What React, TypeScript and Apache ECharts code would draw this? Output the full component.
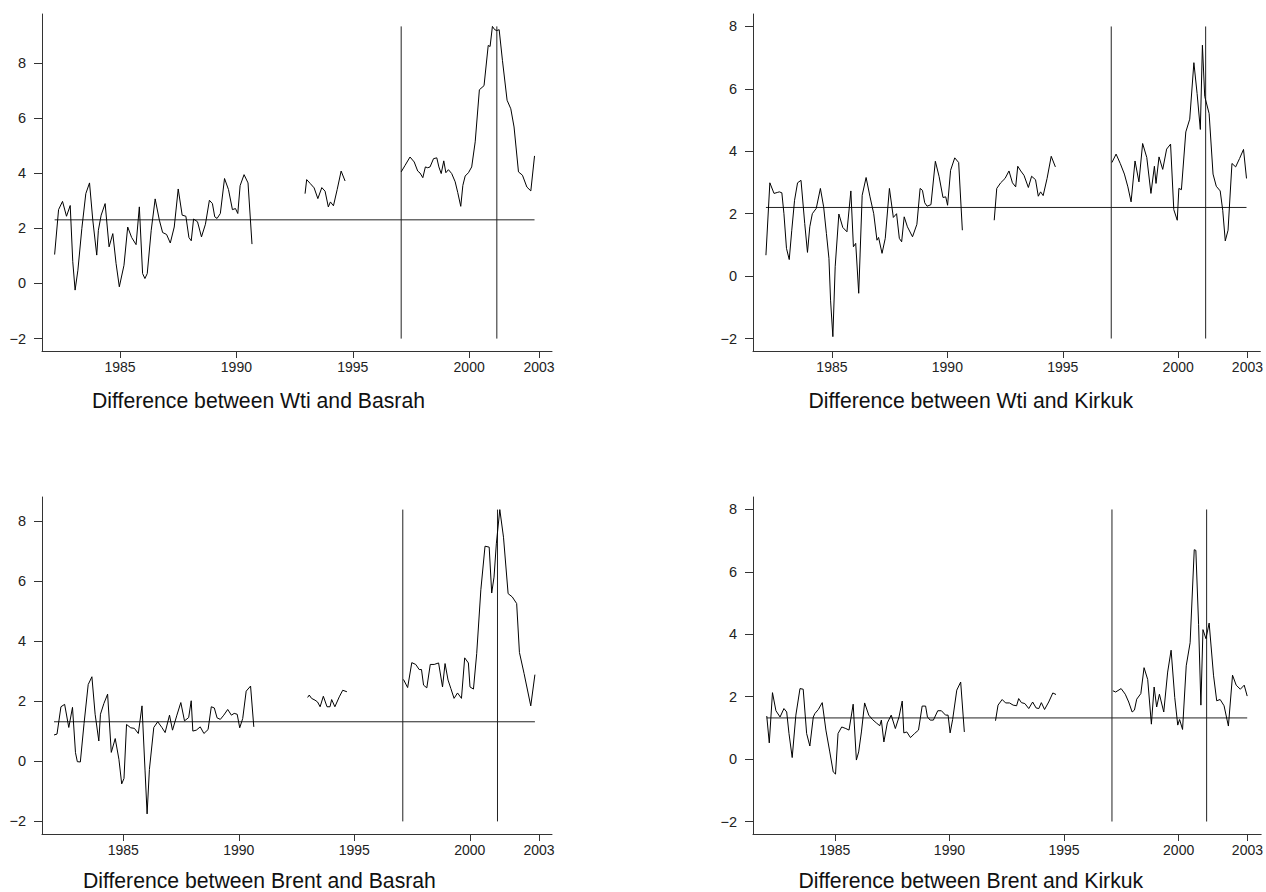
import React, { useEffect, useRef } from "react";
import * as echarts from "echarts";

type Pt = [number, number];

const xTickValues = [1985, 1990, 1995, 2000, 2003];
const yTickValues = [-2, 0, 2, 4, 6, 8];
const panelTitles = [
  "Difference between Wti and Basrah",
  "Difference between Wti and Kirkuk",
  "Difference between Brent and Basrah",
  "Difference between Brent and Kirkuk",
];
const meanLevels = [2.31, 2.2, 1.32, 1.32];
const breakDates: number[][] = [
  [1997.08, 2001.19],
  [1997.1, 2001.19],
  [1997.1, 2001.2],
  [1997.09, 2001.22],
];
const breakTops = [9.33, 8, 8.39, 8];
const breakBottom = -2;

// Wti - Basrah
const wtiBasrah1: Pt[] = [
  [1982.19, 1.05], [1982.36, 2.68], [1982.53, 2.98], [1982.7, 2.44], [1982.86, 2.83], [1982.97, 0.79],
  [1983.07, -0.24], [1983.19, 0.48], [1983.36, 2.0], [1983.53, 3.26], [1983.69, 3.65], [1983.83, 2.3],
  [1984.0, 1.03], [1984.07, 1.93], [1984.19, 2.48], [1984.36, 2.9], [1984.53, 1.33], [1984.69, 1.81],
  [1984.83, 0.73], [1984.97, -0.12], [1985.17, 0.66], [1985.33, 2.05], [1985.5, 1.67], [1985.69, 1.41],
  [1985.83, 2.78], [1985.97, 0.36], [1986.07, 0.18], [1986.17, 0.36], [1986.34, 1.93], [1986.51, 3.07],
  [1986.69, 2.3], [1986.83, 1.85], [1987.0, 1.78], [1987.16, 1.47], [1987.33, 2.05], [1987.5, 3.43],
  [1987.67, 2.48], [1987.83, 2.44], [1987.96, 1.67], [1988.06, 1.55], [1988.16, 2.34], [1988.33, 2.24],
  [1988.5, 1.69], [1988.67, 2.15], [1988.84, 3.02], [1988.97, 2.9], [1989.07, 2.42], [1989.17, 2.36],
  [1989.31, 2.54], [1989.49, 3.81], [1989.66, 3.41], [1989.83, 2.68], [1989.96, 2.72], [1990.06, 2.54],
  [1990.16, 3.55], [1990.33, 3.95], [1990.5, 3.65], [1990.67, 1.43],
];
const wtiBasrah2: Pt[] = [
  [1992.95, 3.26], [1993.02, 3.77], [1993.17, 3.63], [1993.34, 3.47], [1993.5, 3.08], [1993.67, 3.48],
  [1993.81, 3.35], [1993.95, 2.78], [1994.04, 2.96], [1994.17, 2.82], [1994.33, 3.41], [1994.5, 4.08],
  [1994.67, 3.72],
];
const wtiBasrah3: Pt[] = [
  [1997.08, 4.05], [1997.25, 4.29], [1997.46, 4.59], [1997.64, 4.41], [1997.79, 4.08], [1997.89, 4.01],
  [1998.01, 3.84], [1998.12, 4.23], [1998.22, 4.2], [1998.32, 4.23], [1998.47, 4.53], [1998.61, 4.56],
  [1998.7, 4.23], [1998.8, 3.99], [1998.91, 4.45], [1999.0, 4.02], [1999.11, 4.13], [1999.25, 3.99],
  [1999.4, 3.69], [1999.51, 3.3], [1999.64, 2.8], [1999.73, 3.56], [1999.83, 3.9], [1999.97, 4.02],
  [2000.11, 4.23], [2000.26, 5.14], [2000.44, 7.03], [2000.64, 7.18], [2000.82, 8.64], [2000.9, 8.6],
  [2001.0, 9.33], [2001.1, 9.21], [2001.19, 9.18], [2001.29, 9.21], [2001.43, 8.1], [2001.63, 6.65],
  [2001.79, 6.34], [2001.93, 5.68], [2002.12, 4.05], [2002.29, 3.93], [2002.48, 3.5], [2002.65, 3.36],
  [2002.81, 4.63],
];

// Wti - Kirkuk
const wtiKirkuk1: Pt[] = [
  [1982.14, 0.67], [1982.31, 2.99], [1982.49, 2.65], [1982.63, 2.68], [1982.72, 2.7], [1982.83, 2.67],
  [1982.92, 2.0], [1983.03, 0.89], [1983.15, 0.53], [1983.26, 1.47], [1983.38, 2.43], [1983.51, 2.99],
  [1983.66, 3.07], [1983.82, 1.69], [1983.94, 0.76], [1984.04, 1.58], [1984.15, 2.0], [1984.32, 2.17],
  [1984.5, 2.81], [1984.64, 2.22], [1984.76, 1.37], [1984.87, 0.57], [1984.94, -0.77], [1985.04, -1.94],
  [1985.14, 0.3], [1985.3, 1.99], [1985.47, 1.56], [1985.65, 1.42], [1985.82, 2.73], [1985.93, 0.94],
  [1986.03, 1.05], [1986.16, -0.55], [1986.31, 2.59], [1986.48, 3.16], [1986.65, 2.54], [1986.81, 2.0],
  [1986.95, 1.15], [1987.02, 1.24], [1987.17, 0.73], [1987.31, 1.21], [1987.49, 2.81], [1987.66, 1.88],
  [1987.8, 2.0], [1987.92, 1.21], [1988.02, 1.1], [1988.13, 1.9], [1988.27, 1.58], [1988.49, 1.26],
  [1988.68, 1.66], [1988.82, 2.81], [1988.92, 2.75], [1989.02, 2.35], [1989.12, 2.24], [1989.29, 2.29],
  [1989.48, 3.68], [1989.64, 3.2], [1989.81, 2.52], [1989.93, 2.54], [1990.01, 2.27], [1990.14, 3.39],
  [1990.32, 3.79], [1990.49, 3.64], [1990.65, 1.47],
];
const wtiKirkuk2: Pt[] = [
  [1992.03, 1.79], [1992.14, 2.81], [1992.31, 2.99], [1992.5, 3.13], [1992.67, 3.37], [1992.82, 2.99],
  [1992.96, 2.86], [1993.05, 3.52], [1993.18, 3.37], [1993.32, 3.23], [1993.51, 2.84], [1993.65, 3.2],
  [1993.82, 3.09], [1993.94, 2.56], [1994.04, 2.7], [1994.15, 2.58], [1994.32, 3.13], [1994.5, 3.84],
  [1994.68, 3.5],
];
const wtiKirkuk3: Pt[] = [
  [1997.13, 3.64], [1997.31, 3.91], [1997.49, 3.61], [1997.67, 3.27], [1997.82, 2.86], [1997.96, 2.38],
  [1998.13, 3.69], [1998.3, 3.02], [1998.46, 4.25], [1998.64, 3.8], [1998.82, 2.65], [1998.97, 3.52],
  [1999.04, 2.97], [1999.17, 3.82], [1999.33, 3.42], [1999.5, 4.07], [1999.67, 4.23], [1999.81, 2.13],
  [1999.96, 1.79], [2000.03, 2.81], [2000.14, 2.77], [2000.33, 4.62], [2000.5, 5.03], [2000.68, 6.84],
  [2000.82, 5.85], [2000.96, 4.7], [2001.05, 7.4], [2001.15, 5.76], [2001.34, 5.21], [2001.51, 3.27],
  [2001.65, 2.88], [2001.82, 2.73], [2001.93, 2.11], [2002.04, 1.13], [2002.16, 1.47], [2002.33, 3.61],
  [2002.49, 3.5], [2002.66, 3.77], [2002.83, 4.06], [2002.96, 3.13],
];

// Brent - Basrah
const brentBasrah1: Pt[] = [
  [1982.0, 0.88], [1982.13, 0.91], [1982.3, 1.82], [1982.46, 1.9], [1982.64, 1.13], [1982.8, 1.8],
  [1982.93, 0.29], [1983.01, -0.01], [1983.14, -0.02], [1983.3, 1.26], [1983.48, 2.56], [1983.64, 2.82],
  [1983.78, 1.57], [1983.94, 0.68], [1984.01, 1.57], [1984.16, 1.93], [1984.32, 2.24], [1984.48, 0.3],
  [1984.65, 0.76], [1984.81, 0.07], [1984.93, -0.75], [1985.03, -0.57], [1985.14, 1.23], [1985.32, 1.12],
  [1985.48, 1.1], [1985.65, 0.93], [1985.81, 1.85], [1985.94, -0.29], [1986.03, -1.75], [1986.13, -0.27],
  [1986.32, 1.13], [1986.49, 1.32], [1986.67, 1.13], [1986.81, 0.96], [1987.0, 1.54], [1987.13, 1.04],
  [1987.32, 1.54], [1987.49, 1.96], [1987.65, 1.35], [1987.83, 1.46], [1987.94, 2.02], [1988.01, 1.01],
  [1988.16, 1.04], [1988.33, 1.15], [1988.49, 0.93], [1988.67, 1.06], [1988.81, 1.82], [1988.94, 1.78],
  [1989.06, 1.45], [1989.2, 1.4], [1989.35, 1.54], [1989.52, 1.73], [1989.68, 1.54], [1989.8, 1.6],
  [1989.93, 1.57], [1990.04, 1.12], [1990.17, 1.43], [1990.32, 2.34], [1990.51, 2.51], [1990.65, 1.15],
];
const brentBasrah2: Pt[] = [
  [1992.98, 2.13], [1993.05, 2.21], [1993.15, 2.1], [1993.3, 2.04], [1993.41, 1.98], [1993.52, 1.82],
  [1993.66, 2.17], [1993.82, 1.82], [1993.95, 1.82], [1994.02, 2.06], [1994.16, 1.82], [1994.35, 2.15],
  [1994.5, 2.37], [1994.68, 2.32],
];
const brentBasrah3: Pt[] = [
  [1997.13, 2.73], [1997.31, 2.46], [1997.49, 3.29], [1997.66, 3.23], [1997.81, 3.06], [1997.91, 3.06],
  [1998.0, 2.54], [1998.14, 2.45], [1998.29, 3.23], [1998.46, 3.23], [1998.65, 3.28], [1998.82, 2.48],
  [1998.93, 3.26], [1999.06, 2.71], [1999.18, 2.43], [1999.32, 2.1], [1999.47, 2.28], [1999.64, 2.1],
  [1999.78, 3.45], [1999.94, 3.28], [2000.01, 2.48], [2000.16, 2.41], [2000.3, 3.59], [2000.48, 5.72],
  [2000.66, 7.17], [2000.84, 7.14], [2000.95, 5.61], [2001.05, 6.14], [2001.15, 7.25], [2001.3, 8.39],
  [2001.46, 7.47], [2001.66, 5.59], [2001.84, 5.48], [2002.03, 5.26], [2002.15, 3.63], [2002.35, 2.93],
  [2002.64, 1.85], [2002.82, 2.89],
];

// Brent - Kirkuk
const brentKirkuk1: Pt[] = [
  [1982.03, 1.38], [1982.14, 0.52], [1982.28, 2.13], [1982.43, 1.55], [1982.61, 1.35], [1982.78, 1.62],
  [1982.9, 1.51], [1983.0, 0.82], [1983.14, 0.05], [1983.3, 1.41], [1983.48, 2.26], [1983.62, 2.24],
  [1983.77, 0.82], [1983.91, 0.42], [1984.06, 1.35], [1984.13, 1.46], [1984.28, 1.59], [1984.45, 1.81],
  [1984.61, 0.93], [1984.78, 0.23], [1984.93, -0.41], [1985.03, -0.48], [1985.14, 0.82], [1985.3, 1.03],
  [1985.48, 0.98], [1985.62, 0.93], [1985.8, 1.76], [1985.94, -0.03], [1986.04, 0.23], [1986.16, 0.87],
  [1986.3, 1.8], [1986.48, 1.41], [1986.64, 1.27], [1986.81, 1.16], [1986.96, 1.07], [1987.03, 1.25],
  [1987.14, 0.55], [1987.29, 1.16], [1987.46, 1.41], [1987.64, 0.98], [1987.8, 1.35], [1987.94, 1.86],
  [1988.01, 0.84], [1988.14, 0.87], [1988.3, 0.69], [1988.48, 0.82], [1988.65, 0.93], [1988.81, 1.7],
  [1988.96, 1.7], [1989.04, 1.35], [1989.16, 1.25], [1989.3, 1.25], [1989.49, 1.55], [1989.65, 1.55],
  [1989.83, 1.41], [1989.94, 1.41], [1990.03, 0.84], [1990.14, 1.27], [1990.32, 2.21], [1990.49, 2.47],
  [1990.65, 0.87],
];
const brentKirkuk2: Pt[] = [
  [1992.01, 1.23], [1992.12, 1.73], [1992.3, 1.91], [1992.45, 1.8], [1992.62, 1.8], [1992.78, 1.73],
  [1992.93, 1.71], [1993.02, 1.94], [1993.14, 1.81], [1993.29, 1.78], [1993.46, 1.62], [1993.63, 1.83],
  [1993.78, 1.64], [1993.9, 1.62], [1994.01, 1.81], [1994.15, 1.59], [1994.33, 1.83], [1994.51, 2.12],
  [1994.65, 2.07],
];
const brentKirkuk3: Pt[] = [
  [1997.13, 2.19], [1997.25, 2.15], [1997.49, 2.26], [1997.67, 2.08], [1997.82, 1.83], [1997.97, 1.51],
  [1998.07, 1.57], [1998.17, 1.92], [1998.35, 2.1], [1998.49, 2.93], [1998.65, 2.55], [1998.81, 1.12],
  [1998.93, 2.31], [1999.04, 1.67], [1999.16, 2.08], [1999.35, 1.51], [1999.52, 2.79], [1999.67, 3.49],
  [1999.83, 1.97], [1999.96, 1.09], [2000.04, 1.27], [2000.17, 0.95], [2000.33, 2.99], [2000.5, 3.73],
  [2000.68, 6.71], [2000.75, 6.69], [2000.87, 4.31], [2000.97, 1.73], [2001.06, 4.15], [2001.19, 3.86],
  [2001.33, 4.36], [2001.52, 2.69], [2001.66, 1.87], [2001.81, 1.91], [2001.98, 1.71], [2002.17, 1.06],
  [2002.35, 2.69], [2002.51, 2.37], [2002.69, 2.24], [2002.86, 2.37], [2002.99, 2.02],
];

const panelSeries: Pt[][][] = [
  [wtiBasrah1, wtiBasrah2, wtiBasrah3],
  [wtiKirkuk1, wtiKirkuk2, wtiKirkuk3],
  [brentBasrah1, brentBasrah2, brentBasrah3],
  [brentKirkuk1, brentKirkuk2, brentKirkuk3],
];

const layout = [
  { left: 42, top: 14, xMin: 1981.648, xMax: 2003.56, yMin: -2.45, yMax: 9.78, tx: 258.5, ty: 400.7 },
  { left: 753, top: 14, xMin: 1981.58, xMax: 2003.56, yMin: -2.4, yMax: 8.4, tx: 970.8, ty: 400.7 },
  { left: 42, top: 497, xMin: 1981.48, xMax: 2003.56, yMin: -2.42, yMax: 8.81, tx: 259.4, ty: 880.3 },
  { left: 753, top: 497, xMin: 1981.43, xMax: 2003.6, yMin: -2.4, yMax: 8.4, tx: 970.8, ty: 880.3 },
];

const FONT = '"Liberation Sans", Arial, Helvetica, sans-serif';
const AXIS_COLOR = "#333";
const TEXT_COLOR = "#222";

export default function App() {
  const ref = useRef<HTMLDivElement>(null);

  useEffect(() => {
    if (!ref.current) return;
    const chart = echarts.init(ref.current, undefined, { renderer: "svg" });

    const grid: any[] = [];
    const xAxis: any[] = [];
    const yAxis: any[] = [];
    const series: any[] = [];
    const graphic: any[] = [];

    layout.forEach((p, i) => {
      grid.push({ left: p.left, top: p.top, width: 510, height: 337, containLabel: false });
      xAxis.push({
        type: "value",
        gridIndex: i,
        min: p.xMin,
        max: p.xMax,
        splitLine: { show: false },
        axisLine: { show: true, onZero: false, lineStyle: { color: AXIS_COLOR, width: 1 } },
        axisTick: { show: true, length: 7, inside: false, customValues: xTickValues, lineStyle: { color: AXIS_COLOR } },
        axisLabel: {
          show: true,
          customValues: xTickValues,
          margin: 9,
          fontSize: 14,
          fontFamily: FONT,
          color: TEXT_COLOR,
          formatter: (v: number) => String(Math.round(v)),
        },
      });
      yAxis.push({
        type: "value",
        gridIndex: i,
        min: p.yMin,
        max: p.yMax,
        splitLine: { show: false },
        axisLine: { show: true, onZero: false, lineStyle: { color: AXIS_COLOR, width: 1 } },
        axisTick: { show: true, length: 8, inside: false, customValues: yTickValues, lineStyle: { color: AXIS_COLOR } },
        axisLabel: {
          show: true,
          customValues: yTickValues,
          margin: 16,
          fontSize: 14.5,
          fontFamily: FONT,
          color: TEXT_COLOR,
          formatter: (v: number) => (v < 0 ? "\u2212" + Math.abs(v) : String(v)),
        },
      });

      const segs = panelSeries[i];
      segs.forEach((seg) => {
        series.push({
          type: "line",
          xAxisIndex: i,
          yAxisIndex: i,
          data: seg,
          showSymbol: false,
          symbol: "none",
          lineStyle: { color: "#000", width: 1 },
          silent: true,
          z: 3,
        });
      });

      const first = segs[0][0][0];
      const lastSeg = segs[segs.length - 1];
      const last = lastSeg[lastSeg.length - 1][0];
      series.push({
        type: "line",
        xAxisIndex: i,
        yAxisIndex: i,
        data: [
          [first, meanLevels[i]],
          [last, meanLevels[i]],
        ],
        showSymbol: false,
        symbol: "none",
        lineStyle: { color: "#222", width: 1 },
        silent: true,
        z: 2,
      });

      breakDates[i].forEach((bx) => {
        series.push({
          type: "line",
          xAxisIndex: i,
          yAxisIndex: i,
          data: [
            [bx, breakBottom],
            [bx, breakTops[i]],
          ],
          showSymbol: false,
          symbol: "none",
          lineStyle: { color: "#222", width: 1 },
          silent: true,
          z: 2,
        });
      });

      graphic.push({
        type: "text",
        x: p.tx,
        y: p.ty,
        silent: true,
        style: {
          text: panelTitles[i],
          fill: "#111",
          fontSize: 21.2,
          fontFamily: FONT,
          align: "center",
          verticalAlign: "middle",
        },
      });
    });

    chart.setOption({
      animation: false,
      backgroundColor: "#fff",
      grid,
      xAxis,
      yAxis,
      series,
      graphic,
    });

    return () => chart.dispose();
  }, []);

  return (
    <div
      ref={ref}
      style={{ position: "absolute", left: 0, top: 0, width: 1266, height: 892 }}
    />
  );
}
